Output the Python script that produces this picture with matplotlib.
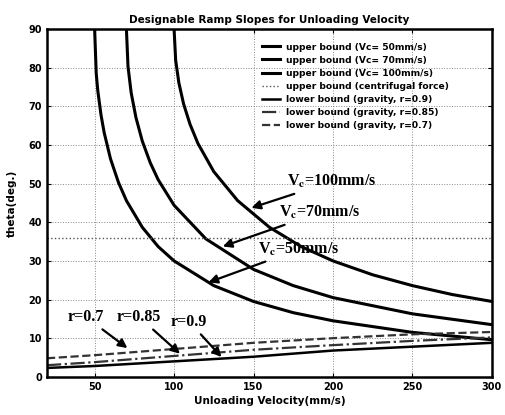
import matplotlib.pyplot as plt

# Datos (velocidad en mm/s, angulo en grados)
x_v50 = [50, 51, 52, 54, 56, 60, 65, 70, 80, 90, 100, 125, 150, 175, 200, 250, 300]
y_v50 = [90, 78.5, 74, 67.8, 63.2, 56.4, 50.3, 45.6, 38.7, 33.7, 30, 23.6, 19.5, 16.6, 14.5, 11.5, 9.6]

x_v70 = [70, 71, 73, 76, 80, 85, 90, 100, 120, 150, 175, 200, 250, 300]
y_v70 = [90, 80.3, 73.5, 67.1, 61, 55.4, 51, 44.4, 35.7, 27.8, 23.6, 20.5, 16.3, 13.5]

x_v100 = [100, 101, 103, 106, 110, 115, 125, 140, 160, 180, 200, 225, 250, 275, 300]
y_v100 = [90, 81.9, 76.1, 70.6, 65.4, 60.4, 53.1, 45.6, 38.7, 33.7, 30, 26.4, 23.6, 21.3, 19.5]

x_cent = [20, 300]
y_cent = [36, 36]

x_low = [20, 50, 100, 150, 200, 250, 300]
y_r09 = [2.3, 2.8, 4.0, 5.2, 6.8, 7.8, 8.8]
y_r085 = [3.0, 3.8, 5.4, 7.0, 8.2, 9.3, 10.2]
y_r07 = [4.8, 5.6, 7.2, 8.8, 10.0, 11.0, 11.6]

legend_labels = ['upper bound (Vc= 50mm/s)', 'upper bound (Vc= 70mm/s)',
                 'upper bound (Vc= 100mm/s)', 'upper bound (centrifugal force)',
                 'lower bound (gravity, r=0.9)', 'lower bound (gravity, r=0.85)',
                 'lower bound (gravity, r=0.7)']

plt.rcParams['font.family'] = 'DejaVu Sans'
plt.rcParams['mathtext.fontset'] = 'stix'

fig = plt.figure(figsize=(5.05, 4.15), dpi=100)
ax = fig.add_axes([0.093, 0.092, 0.881, 0.838])

ax.plot(x_v50, y_v50, color='black', lw=2.2, label=legend_labels[0])
ax.plot(x_v70, y_v70, color='black', lw=2.2, label=legend_labels[1])
ax.plot(x_v100, y_v100, color='black', lw=2.2, label=legend_labels[2])
ax.plot(x_cent, y_cent, color='#555555', lw=1.0, ls=':', label=legend_labels[3])
ax.plot(x_low, y_r09, color='black', lw=1.8, label=legend_labels[4])
ax.plot(x_low, y_r085, color='#333333', lw=1.6, ls='-.', label=legend_labels[5])
ax.plot(x_low, y_r07, color='#333333', lw=1.6, ls='--', label=legend_labels[6])

ax.set_xlim(20, 300)
ax.set_ylim(0, 90)
ax.set_xticks([50, 100, 150, 200, 250, 300])
ax.set_yticks(range(0, 91, 10))
ax.tick_params(direction='in', top=True, right=True, labelsize=7, length=3)
for lab in ax.get_xticklabels() + ax.get_yticklabels():
    lab.set_fontweight('bold')
ax.grid(True, ls=':', color='#888888', lw=0.7)
for s in ax.spines.values():
    s.set_linewidth(1.8)

ax.set_title('Designable Ramp Slopes for Unloading Velocity', fontsize=7.5, fontweight='bold', pad=4)
ax.set_xlabel('Unloading Velocity(mm/s)', fontsize=7.5, fontweight='bold', labelpad=3)
ax.set_ylabel('theta(deg.)', fontsize=7.5, fontweight='bold', labelpad=8)

ax.legend(loc='upper left', bbox_to_anchor=(0.465, 0.985), frameon=False,
          prop={'size': 6.6, 'weight': 'bold'}, handlelength=2.0,
          handletextpad=0.6, labelspacing=0.45)

afont = dict(family='Liberation Serif', fontsize=11.5, fontweight='bold')
arw = dict(arrowstyle='-|>', color='black', lw=1.6, mutation_scale=13)
ax.annotate(r'V$_\mathbf{c}$=100mm/s', xy=(147, 43.5), xytext=(171, 50.5),
            va='center', arrowprops=arw, **afont)
ax.annotate(r'V$_\mathbf{c}$=70mm/s', xy=(129, 33.5), xytext=(166, 42.5),
            va='center', arrowprops=arw, **afont)
ax.annotate(r'V$_\mathbf{c}$=50mm/s', xy=(120, 24.2), xytext=(153, 33),
            va='center', arrowprops=arw, **afont)
ax.annotate('r=0.7', xy=(72, 7.0), xytext=(33, 15.5),
            va='center', arrowprops=arw, **afont)
ax.annotate('r=0.85', xy=(105, 5.5), xytext=(64, 15.5),
            va='center', arrowprops=arw, **afont)
ax.annotate('r=0.9', xy=(131, 4.6), xytext=(98, 14.3),
            va='center', arrowprops=arw, **afont)

plt.savefig('out.png', dpi=100)
